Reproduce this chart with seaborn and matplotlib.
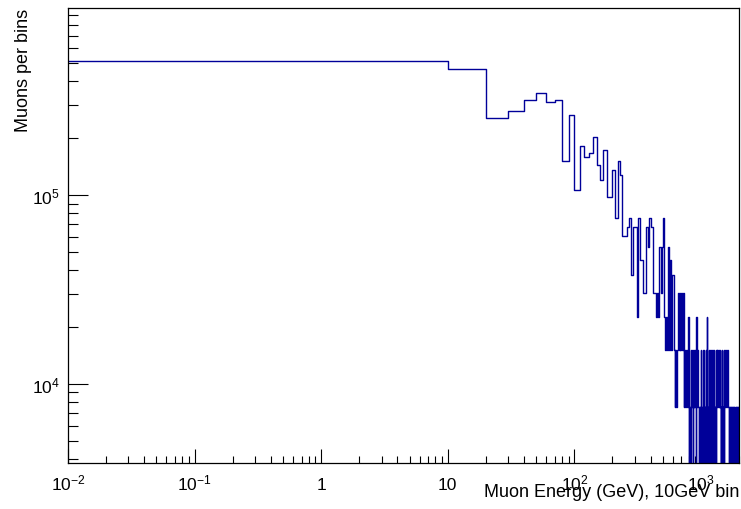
import numpy as np
import pandas as pd
import matplotlib
matplotlib.use("Agg")
import matplotlib.pyplot as plt
import seaborn as sns
from matplotlib.ticker import FixedLocator, FixedFormatter, LogLocator, NullFormatter

sns.set_theme(style="white")
plt.rcParams["font.family"] = ["Liberation Sans", "DejaVu Sans"]
plt.rcParams["text.color"] = "black"
plt.rcParams["axes.labelcolor"] = "black"
plt.rcParams["mathtext.fontset"] = "custom"
plt.rcParams["mathtext.rm"] = "Liberation Sans"
plt.rcParams["mathtext.it"] = "Liberation Sans:italic"
plt.rcParams["mathtext.bf"] = "Liberation Sans:bold"

# 10 GeV bins from 0 to 2000 GeV
bin_width = 10
energy_range = (0, 2000)
bin_low_edges = np.arange(energy_range[0], energy_range[1], bin_width)

# Muons per bin, 0-200 GeV
muons_0_200 = [513400, 468100, 256700, 279350, 317100, 347300, 309550, 317100,
               151000, 264250, 105700, 181200, 158550, 166100, 203850, 143450,
               120800, 173650, 98150, 98150]
# 200-500 GeV
muons_200_500 = [135900, 75500, 151000, 128350, 60400, 60400, 67950, 75500,
                 37750, 67950, 67950, 22650, 75500, 45300, 45300, 30200,
                 30200, 67950, 52850, 75500, 67950, 67950, 30200, 30200,
                 22650, 30200, 22650, 52850, 30200, 52850]
# 500-1000 GeV
muons_500_1000 = [75500, 22650, 15100, 22650, 15100, 52850, 15100, 45300, 15100, 37750,
                  37750, 15100, 7550, 15100, 7550, 15100, 30200, 15100, 30200, 15100,
                  30200, 15100, 30200, 7550, 15100, 7550, 15100, 15100, 7550, 22650,
                  0, 7550, 0, 15100, 7550, 15100, 0, 7550, 15100, 7550,
                  15100, 0, 22650, 7550, 15100, 7550, 0, 7550, 0, 7550]
# 1000-2000 GeV
muons_1000_2000 = [15100, 0, 7550, 0, 15100, 0, 7550, 0, 7550, 15100,
                   0, 22650, 0, 7550, 0, 15100, 0, 7550, 0, 15100,
                   0, 7550, 0, 15100, 0, 7550, 0, 15100, 7550, 0,
                   7550, 0, 15100, 7550, 7550, 15100, 7550, 7550, 15100, 7550,
                   7550, 15100, 7550, 0, 7550, 0, 15100, 0, 7550, 0,
                   7550, 0, 15100, 7550, 7550, 7550, 15100, 7550, 7550, 7550,
                   7550, 7550, 15100, 7550, 7550, 7550, 7550, 0, 7550, 0,
                   7550, 0, 7550, 0, 7550, 7550, 0, 7550, 0, 7550,
                   0, 7550, 0, 7550, 0, 0, 7550, 0, 7550, 0,
                   7550, 0, 7550, 0, 7550, 0, 7550, 7550, 0, 7550]

x_ticks = [1e-2, 1e-1, 1, 10, 100, 1000]
x_tick_labels = [r"$10^{-2}$", r"$10^{-1}$", "1", "10", r"$10^{2}$", r"$10^{3}$"]
y_ticks = [1e4, 1e5]
y_tick_labels = [r"$10^{4}$", r"$10^{5}$"]

muons = muons_0_200 + muons_200_500 + muons_500_1000 + muons_1000_2000
df = pd.DataFrame({"energy": bin_low_edges + bin_width / 2, "muons": muons})

W, H = 741, 510
fig = plt.figure(figsize=(W / 100, H / 100), dpi=100)
ax = fig.add_axes([68 / W, 46 / H, 671 / W, 455 / H])

sns.histplot(data=df, x="energy", weights="muons", binwidth=bin_width,
             binrange=energy_range, element="step", fill=False,
             color="#000099", linewidth=1.0, ax=ax)

ax.set_xscale("log")
ax.set_yscale("log")
ax.set_xlim(1e-2, 2000)
ax.set_ylim(3800, 980000)

ax.xaxis.set_major_locator(FixedLocator(x_ticks))
ax.xaxis.set_major_formatter(FixedFormatter(x_tick_labels))
ax.xaxis.set_minor_locator(LogLocator(base=10, subs=np.arange(2, 10), numticks=30))
ax.xaxis.set_minor_formatter(NullFormatter())
ax.yaxis.set_major_locator(FixedLocator(y_ticks))
ax.yaxis.set_major_formatter(FixedFormatter(y_tick_labels))
ax.yaxis.set_minor_locator(LogLocator(base=10, subs=np.arange(2, 10), numticks=30))
ax.yaxis.set_minor_formatter(NullFormatter())

ax.tick_params(axis="x", which="major", direction="in", length=9.8, width=0.8,
               top=False, bottom=True, labelsize=12.5, pad=19, colors="black")
ax.tick_params(axis="x", which="minor", direction="in", length=4.9, width=0.8,
               top=False, bottom=True, colors="black")
ax.tick_params(axis="y", which="major", direction="in", length=14.4, width=0.8,
               right=False, left=True, labelsize=12.5, pad=6, colors="black")
ax.tick_params(axis="y", which="minor", direction="in", length=7.2, width=0.8,
               right=False, left=True, colors="black")
for lab in ax.get_xticklabels():
    lab.set_verticalalignment("baseline")

for side in ["left", "right", "top", "bottom"]:
    ax.spines[side].set_visible(True)
    ax.spines[side].set_color("black")
    ax.spines[side].set_linewidth(0.9)

ax.set_xlabel("Muon Energy (GeV), 10GeV bin", fontsize=13, color="black",
              ha="right", va="center")
ax.xaxis.set_label_coords(1.0, -0.062)
ax.set_ylabel("Muons per bins", fontsize=13, color="black", ha="right", va="center")
ax.yaxis.set_label_coords(-0.067, 1.0)
ax.grid(False)

fig.savefig("out.png", dpi=100, facecolor="white")
